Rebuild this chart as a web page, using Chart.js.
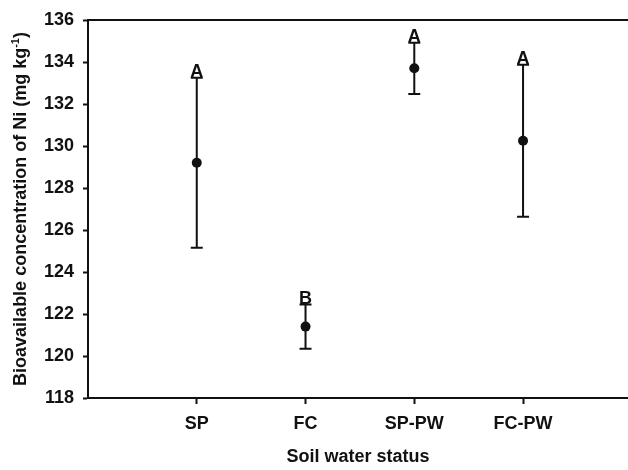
<!DOCTYPE html>
<html>
<head>
<meta charset="utf-8">
<script src="https://cdn.jsdelivr.net/npm/chart.js@4"></script>
<style>
  html, body { margin: 0; padding: 0; background: #fff; }
  canvas { display: block; }
</style>
</head>
<body>
<canvas id="chart" width="628" height="470"></canvas>
<script>
const categories = ['SP', 'FC', 'SP-PW', 'FC-PW'];
const means = [129.2, 121.4, 133.7, 130.25];
const errors = [4.05, 1.05, 1.22, 3.62];
const letters = ['A', 'B', 'A', 'A'];
const yTicks = [118, 120, 122, 124, 126, 128, 130, 132, 134, 136];

const FONT = '"Liberation Sans", Arial, sans-serif';
const INK = '#111';

// error bars, group letters, top frame line and the y title with superscript
const extras = {
  id: 'extras',
  beforeDatasetsDraw(chart) {
    const { ctx, scales: { x, y } } = chart;
    ctx.save();
    ctx.strokeStyle = INK;
    ctx.lineWidth = 2;
    means.forEach((m, i) => {
      const px = x.getPixelForValue(i + 1);
      const top = y.getPixelForValue(m + errors[i]);
      const bot = y.getPixelForValue(m - errors[i]);
      ctx.beginPath();
      ctx.moveTo(px, top);
      ctx.lineTo(px, bot);
      ctx.moveTo(px - 6, top);
      ctx.lineTo(px + 6, top);
      ctx.moveTo(px - 6, bot);
      ctx.lineTo(px + 6, bot);
      ctx.stroke();
    });
    ctx.restore();
  },
  afterDraw(chart) {
    const { ctx, chartArea, scales: { x, y } } = chart;
    ctx.save();
    ctx.strokeStyle = INK;
    ctx.lineWidth = 2;
    ctx.beginPath();
    ctx.moveTo(chartArea.left - 1, chartArea.top);
    ctx.lineTo(chartArea.right, chartArea.top);
    ctx.stroke();

    ctx.fillStyle = INK;
    ctx.font = 'bold 18px ' + FONT;
    ctx.textAlign = 'center';
    ctx.textBaseline = 'alphabetic';
    letters.forEach((t, i) => {
      const px = x.getPixelForValue(i + 1);
      const py = y.getPixelForValue(means[i] + errors[i]);
      ctx.fillText(t, px, py - 1);
    });

    // rotated y title
    const main = 'Bioavailable concentration of Ni (mg kg';
    const sup = '-1';
    const end = ')';
    ctx.font = 'bold 18px ' + FONT;
    const w1 = ctx.measureText(main).width;
    const w3 = ctx.measureText(end).width;
    ctx.font = 'bold 11px ' + FONT;
    const w2 = ctx.measureText(sup).width;
    const total = w1 + w2 + w3;
    ctx.translate(26, (chartArea.top + chartArea.bottom) / 2);
    ctx.rotate(-Math.PI / 2);
    ctx.textAlign = 'left';
    let cx = -total / 2;
    ctx.font = 'bold 18px ' + FONT;
    ctx.fillText(main, cx, 0);
    cx += w1;
    ctx.font = 'bold 11px ' + FONT;
    ctx.fillText(sup, cx, -7);
    cx += w2;
    ctx.font = 'bold 18px ' + FONT;
    ctx.fillText(end, cx, 0);
    ctx.restore();
  }
};

new Chart(document.getElementById('chart'), {
  type: 'scatter',
  data: {
    datasets: [{
      data: means.map((m, i) => ({ x: i + 1, y: m })),
      pointRadius: 5,
      pointBackgroundColor: INK,
      pointBorderColor: INK,
      pointBorderWidth: 0,
      showLine: false
    }]
  },
  options: {
    responsive: false,
    animation: false,
    layout: { autoPadding: false, padding: { top: 20, right: 0, bottom: 0, left: 0 } },
    plugins: { legend: { display: false }, tooltip: { enabled: false } },
    scales: {
      x: {
        type: 'linear',
        min: 0,
        max: 4.965,
        afterBuildTicks(scale) {
          scale.ticks = categories.map((c, i) => ({ value: i + 1 }));
        },
        afterFit(scale) {
          scale.height = 72;
          scale.paddingLeft = 0;
          scale.paddingRight = 0;
        },
        ticks: {
          callback: (v) => categories[v - 1] || '',
          color: INK,
          font: { family: FONT, size: 18, weight: 'bold' },
          padding: 9,
          maxRotation: 0,
          autoSkip: false
        },
        grid: { drawOnChartArea: false, drawTicks: true, tickLength: 6, tickWidth: 2, tickColor: INK },
        border: { display: true, color: INK, width: 2 },
        title: {
          display: true,
          text: 'Soil water status',
          color: INK,
          font: { family: FONT, size: 18, weight: 'bold' },
          padding: { top: 0, bottom: 2 }
        }
      },
      y: {
        min: 118,
        max: 136,
        afterBuildTicks(scale) {
          scale.ticks = yTicks.map((v) => ({ value: v }));
        },
        afterFit(scale) { scale.width = 88; },
        ticks: {
          color: INK,
          font: { family: FONT, size: 18, weight: 'bold' },
          padding: 9
        },
        grid: { drawOnChartArea: false, drawTicks: true, tickLength: 5, tickWidth: 2, tickColor: INK },
        border: { display: true, color: INK, width: 2 }
      }
    }
  },
  plugins: [extras]
});
</script>
</body>
</html>
